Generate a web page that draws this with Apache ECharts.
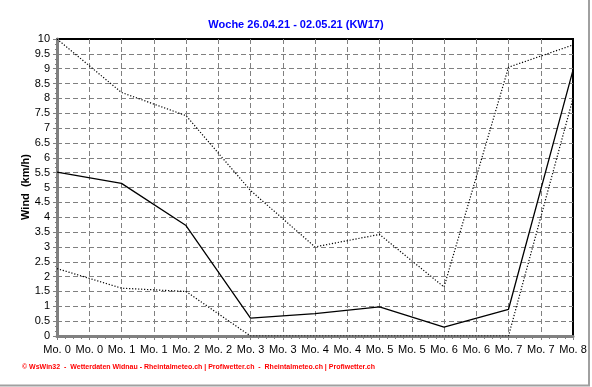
<!DOCTYPE html>
<html>
<head>
<meta charset="utf-8">
<script src="https://cdn.jsdelivr.net/npm/echarts@6/dist/echarts.min.js"></script>
<style>
html,body{margin:0;padding:0;background:#fff;}
#c{width:592px;height:387px;}
</style>
</head>
<body>
<div id="c"></div>
<script>
var titleText = 'Woche 26.04.21 - 02.05.21 (KW17)';
var yAxisName = 'Wind  (km/h)';
var footerText = '\u00a9 WsWin32  -  Wetterdaten Widnau - Rheintalmeteo.ch | Profiwetter.ch  -  Rheintalmeteo.ch | Profiwetter.ch';
var tickLabels = ['Mo. 0','Mo. 0','Mo. 1','Mo. 1','Mo. 2','Mo. 2','Mo. 3','Mo. 3','Mo. 4','Mo. 4','Mo. 5','Mo. 5','Mo. 6','Mo. 6','Mo. 7','Mo. 7','Mo. 8'];
var dayIndex = [0, 1, 2, 3, 4, 5, 6, 7, 8];
var meanWind = [5.52, 5.14, 3.72, 0.6, 0.75, 0.98, 0.3, 0.9, 8.95];
var maxWind  = [10.0, 8.2, 7.42, 4.9, 3.0, 3.42, 1.65, 9.05, 9.8];
var minWind  = [2.27, 1.61, 1.5, 0, 0, 0, 0, 0, 8.0];

function pairs(vals){ return dayIndex.map(function(d,i){ return [d, vals[i]]; }); }

var chart = echarts.init(document.getElementById('c'), null, {renderer:'canvas'});
var font = 'Liberation Sans, Arial, sans-serif';
chart.setOption({
  animation: false,
  backgroundColor: '#fff',
  title: {
    text: titleText, left: 'center', top: 14,
    textStyle: {color:'#0000ff', fontSize: 11, fontWeight:'bold', fontFamily: font}
  },
  grid: {left: 57, right: 19, top: 39, bottom: 51, show: true, borderColor:'#000', borderWidth: 2, backgroundColor:'transparent'},
  xAxis: {
    type: 'value', min: 0, max: 8, interval: 0.5,
    axisLine: {show: true, onZero: false, lineStyle:{color:'#808080', width:3}},
    axisTick: {show: true, length: 4, lineStyle:{color:'#808080', width:1}},
    minorTick: {show: true, splitNumber: 4, length: 3, lineStyle:{color:'#808080', width:1}},
    axisLabel: {color:'#000', fontSize: 11, fontFamily: font, margin: 8,
      formatter: function(v){ return tickLabels[Math.round(v*2)]; }},
    splitLine: {show: true, showMinLine: false, showMaxLine: false, lineStyle:{color:'#808080', type:[5,3], width:1}}
  },
  yAxis: {
    type: 'value', min: 0, max: 10, interval: 0.5,
    axisLine: {show: true, lineStyle:{color:'#808080', width:3}},
    axisTick: {show: true, length: 4, lineStyle:{color:'#808080', width:1}},
    minorTick: {show: true, splitNumber: 3, length: 2, lineStyle:{color:'#808080', width:1}},
    axisLabel: {color:'#000', fontSize: 11, fontFamily: font, margin: 7},
    splitLine: {show: true, showMinLine: false, showMaxLine: false, lineStyle:{color:'#808080', type:[5,3], width:1}}
  },
  series: [
    {name:'max', type:'line', data: pairs(maxWind), symbol:'none', lineStyle:{color:'#000', width:1.2, type:[1.2,1.8]}, z: 3},
    {name:'min', type:'line', data: pairs(minWind), symbol:'none', lineStyle:{color:'#000', width:1.2, type:[1.2,1.8]}, z: 3},
    {name:'mean', type:'line', data: pairs(meanWind), symbol:'none', lineStyle:{color:'#000', width:1.3}, z: 4}
  ],
  graphic: [
    {type:'text', x: 26, y: 187, rotation: Math.PI/2,
      style:{text: yAxisName, fill:'#000', font:'bold 11px ' + font, align:'center', verticalAlign:'middle'}},
    {type:'text', left: 22, top: 364, style:{text: footerText, fill:'#ff0000', font:'bold 7px ' + font}},
    {type:'line', shape:{x1:589, y1:0, x2:589, y2:386}, style:{stroke:'#a0a0a0', lineWidth:2}},
    {type:'line', shape:{x1:0, y1:385.5, x2:590, y2:385.5}, style:{stroke:'#a0a0a0', lineWidth:2}}
  ]
});
</script>
</body>
</html>
